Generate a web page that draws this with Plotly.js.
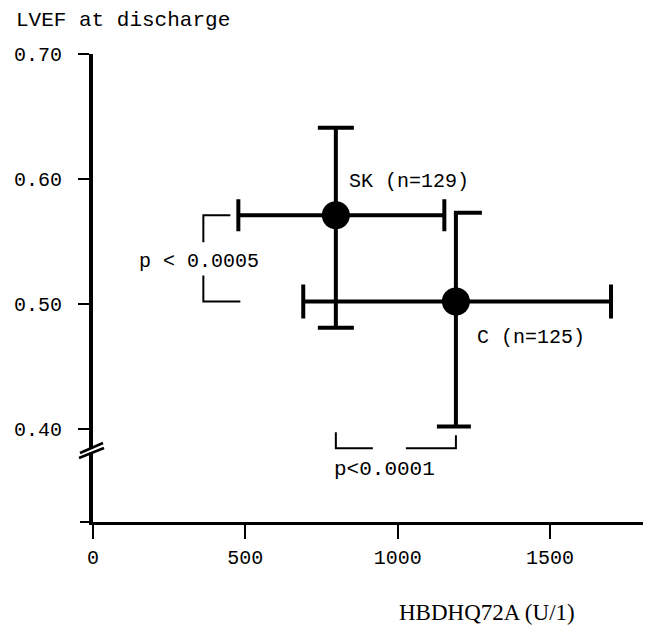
<!DOCTYPE html>
<html><head><meta charset="utf-8">
<script src="https://cdn.plot.ly/plotly-3.0.1.min.js"></script>
<style>html,body{margin:0;padding:0;background:#fff}</style>
</head><body><div id="chart" style="width:647px;height:626px"></div>
<script>
// ---- data ----
const groups = ["SK", "C"];
const groupLabels = ["SK (n=129)", "C (n=125)"];
const hbdhMean = [797, 1191];
const hbdhLow = [477, 690];
const hbdhHigh = [1153, 1700];
const lvefMean = [0.571, 0.502];
const lvefLow = [0.481, 0.402];
const lvefHigh = [0.641, 0.573];
const xTickVals = [0, 500, 1000, 1500];
const xTickText = ["0", "500", "1000", "1500"];
const yTickVals = [0.40, 0.50, 0.60, 0.70];
const yTickText = ["0.40", "0.50", "0.60", "0.70"];
const pLabels = ["p < 0.0005", "p<0.0001"];
const yTitle = "LVEF at discharge";
const xTitle = "HBDHQ72A (U/1)";

// ---- layout geometry ----
const W = 647, H = 626;
const M = {l: 93, r: 4, t: 54, b: 104};
const xRange = [0, 1805], yRange = [0.3256, 0.70];
const pw = W - M.l - M.r, ph = H - M.t - M.b;
const dx = (xRange[1] - xRange[0]) / pw;   // data units per px
const dy = (yRange[1] - yRange[0]) / ph;
const px = v => (v - M.l) / pw;            // page px -> paper x
const py = v => (H - M.b - v) / ph;        // page px -> paper y

const ink = "#000";
const mono = "Liberation Mono, Courier New, monospace";

function errTrace(i, wx, wy) {
  return {
    type: "scatter", mode: "markers", name: groups[i],
    x: [hbdhMean[i]], y: [lvefMean[i]],
    marker: {size: 28, color: ink},
    error_x: {type: "data", symmetric: false,
      array: [hbdhHigh[i] - hbdhMean[i]], arrayminus: [hbdhMean[i] - hbdhLow[i]],
      color: ink, thickness: 4, width: wx},
    error_y: {type: "data", symmetric: false,
      array: [lvefHigh[i] - lvefMean[i]], arrayminus: [lvefMean[i] - lvefLow[i]],
      color: ink, thickness: 4, width: wy},
    hoverinfo: "skip", cliponaxis: false
  };
}

// C vertical caps (lower full, upper half to the right)
const cCaps = {
  type: "scatter", mode: "lines",
  x: [hbdhMean[1] - 19 * dx, hbdhMean[1] + 15 * dx, null, hbdhMean[1] - 2 * dx, hbdhMean[1] + 26 * dx],
  y: [lvefLow[1], lvefLow[1], null, lvefHigh[1], lvefHigh[1]],
  line: {color: ink, width: 4}, hoverinfo: "skip"
};

// left bracket (SK vs C on LVEF)
const bxL = hbdhLow[0] - 35 * dx;
const leftBracket = {
  type: "scatter", mode: "lines",
  x: [hbdhLow[0] - 8 * dx, bxL, bxL, null, bxL, bxL, hbdhLow[0] + 2 * dx],
  y: [lvefMean[0], lvefMean[0], lvefMean[0] - 27 * dy, null, lvefMean[1] + 26 * dy, lvefMean[1], lvefMean[1]],
  line: {color: ink, width: 2}, hoverinfo: "skip"
};
// bottom bracket (SK vs C on HBDH)
const byB = lvefLow[1] - 21.7 * dy;
const bottomBracket = {
  type: "scatter", mode: "lines",
  x: [hbdhMean[0], hbdhMean[0], hbdhMean[0] + 37 * dx, null, hbdhMean[1] - 50 * dx, hbdhMean[1], hbdhMean[1]],
  y: [byB + 16 * dy, byB, byB, null, byB, byB, byB + 13 * dy],
  line: {color: ink, width: 2}, hoverinfo: "skip"
};

const data = [leftBracket, bottomBracket, errTrace(0, 16, 18), errTrace(1, 17, 0), cCaps];

const layout = {
  width: W, height: H, margin: M,
  paper_bgcolor: "#fff", plot_bgcolor: "#fff",
  showlegend: false,
  font: {family: mono, size: 20, color: ink},
  xaxis: {range: xRange, showgrid: false, zeroline: false,
    showline: true, linecolor: ink, linewidth: 3,
    ticks: "outside", ticklen: 14, tickwidth: 2, tickcolor: ink,
    tickvals: xTickVals, ticktext: xTickText, ticklabelstandoff: 1,
    tickfont: {family: mono, size: 20, color: ink}},
  yaxis: {range: yRange, showgrid: false, zeroline: false,
    showline: true, linecolor: ink, linewidth: 4,
    ticks: "outside", ticklen: 11, tickwidth: 2, tickcolor: ink,
    tickvals: yTickVals, ticktext: yTickText, ticklabelstandoff: 12,
    tickfont: {family: mono, size: 20, color: ink}},
  shapes: [
    // origin tick to the left
    {type: "line", xref: "paper", yref: "paper", x0: px(80), x1: px(93), y0: 0, y1: 0,
      line: {color: ink, width: 2}, layer: "above"},
    // axis break: white gap then two slashes
    {type: "line", xref: "paper", yref: "paper", x0: px(91), x1: px(91), y0: py(452.5), y1: py(448.5),
      line: {color: "#fff", width: 7}, layer: "above"},
    {type: "line", xref: "paper", yref: "paper", x0: px(79), y0: py(458), x1: px(104), y1: py(448),
      line: {color: ink, width: 2.5}, layer: "above"},
    {type: "line", xref: "paper", yref: "paper", x0: px(80), y0: py(453), x1: px(103), y1: py(443),
      line: {color: ink, width: 2.5}, layer: "above"}
  ],
  annotations: [
    {text: yTitle, xref: "paper", yref: "paper", x: px(14), y: py(20), xanchor: "left", yanchor: "middle",
      showarrow: false, font: {family: mono, size: 21, color: ink}},
    {text: xTitle, xref: "paper", yref: "paper", x: px(397), y: py(612), xanchor: "left", yanchor: "middle",
      showarrow: false, font: {family: "Liberation Serif, Times New Roman, serif", size: 23, color: ink}},
    {text: groupLabels[0], xref: "x", yref: "y", x: hbdhMean[0], y: lvefMean[0], xshift: 11, yshift: 34,
      xanchor: "left", yanchor: "middle", showarrow: false, font: {family: mono, size: 20, color: ink}},
    {text: groupLabels[1], xref: "x", yref: "y", x: hbdhMean[1], y: lvefMean[1], xshift: 19, yshift: -36,
      xanchor: "left", yanchor: "middle", showarrow: false, font: {family: mono, size: 20, color: ink}},
    {text: pLabels[0], xref: "x", yref: "y", x: bxL, y: (lvefMean[0] + lvefMean[1]) / 2, xshift: -4, yshift: -3,
      xanchor: "center", yanchor: "middle", showarrow: false, bgcolor: "rgba(0,0,0,0)",
      font: {family: mono, size: 20, color: ink}},
    {text: pLabels[1], xref: "x", yref: "y", x: hbdhMean[0], y: byB, xshift: -4, yshift: -21,
      xanchor: "left", yanchor: "middle", showarrow: false, font: {family: mono, size: 21, color: ink}}
  ]
};

Plotly.newPlot("chart", data, layout, {displayModeBar: false, staticPlot: true});
</script>
</body></html>
